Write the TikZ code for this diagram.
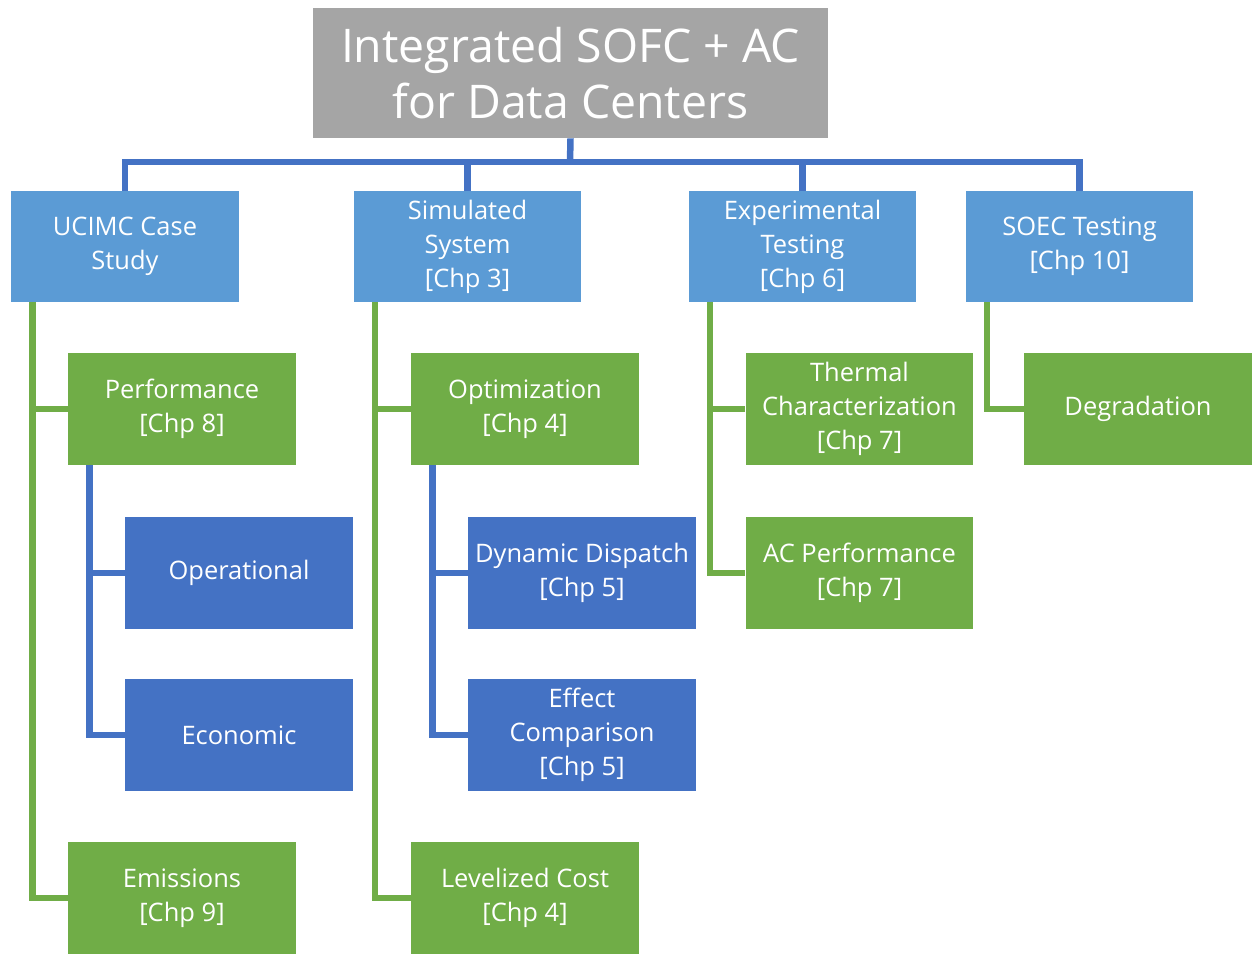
\documentclass[tikz,border=0pt]{standalone}
\usepackage{fontspec}
\setmainfont{Open Sans}
\definecolor{ttlgray}{HTML}{A5A5A5}
\definecolor{lblue}{HTML}{5B9BD5}
\definecolor{dblue}{HTML}{4472C4}
\definecolor{lgreen}{HTML}{70AD47}

\begin{document}
\begin{tikzpicture}[x=0.02cm,y=-0.02cm,
	box/.style={minimum width=4.56cm,minimum height=2.24cm,inner sep=0pt,align=center,
		text=white,font=\fontsize{14.5}{19.3}\selectfont},
	toplvl/.style={box,fill=lblue,minimum height=2.22cm},
	grnbox/.style={box,fill=lgreen},
	blubox/.style={box,fill=dblue},
	grnline/.style={draw=lgreen,line width=3.7pt},
	bluline/.style={draw=dblue,line width=3.7pt}]
	\useasboundingbox (0,0) rectangle (1253,953);
	\node[fill=ttlgray,text=white,minimum width=10.3cm,minimum height=2.6cm,inner sep=0pt,align=center,
		font=\fontsize{26.4}{32.3}\selectfont] (title) at (570.5,73) {Integrated SOFC + AC\\for Data Centers};
	\node[toplvl] (ucimc) at (125,246.5) {UCIMC Case\\Study};
	\node[toplvl] (sim) at (467.5,246.5) {Simulated\\System\\{[Chp 3]}};
	\node[toplvl] (exp) at (802.5,246.5) {Experimental\\Testing\\{[Chp 6]}};
	\node[toplvl] (soec) at (1079.5,246.5) {SOEC Testing\\{[Chp 10]}};
	\node[grnbox] (perf) at (182,409) {Performance\\{[Chp 8]}};
	\node[grnbox] (emis) at (182,898) {Emissions\\{[Chp 9]}};
	\node[blubox] (oper) at (239,573) {Operational};
	\node[blubox] (econ) at (239,735) {Economic};
	\node[grnbox] (optim) at (525,409) {Optimization\\{[Chp 4]}};
	\node[grnbox] (lcost) at (525,898) {Levelized Cost\\{[Chp 4]}};
	\node[blubox] (dyn) at (582,573) {Dynamic Dispatch\\{[Chp 5]}};
	\node[blubox] (effect) at (582,735) {Effect\\Comparison\\{[Chp 5]}};
	\node[grnbox] (therm) at (859.5,409) {Thermal\\Characterization\\{[Chp 7]}};
	\node[grnbox] (acperf) at (859.5,573) {AC Performance\\{[Chp 7]}};
	\node[grnbox] (degr) at (1138,409) {Degradation};
	% top bus
	\coordinate (bus) at (570,162);
	\draw[bluline] (title.south) -- (bus);
	\draw[bluline] (ucimc.north) |- (bus) -| (soec.north);
	\draw[bluline] (sim.north) -- (sim.north |- bus);
	\draw[bluline] (exp.north) -- (exp.north |- bus);
	% branches
	\draw[grnline] ([xshift=0.44cm]ucimc.south west) |- (emis.west);
	\draw[grnline] ([xshift=0.44cm]ucimc.south west) |- (perf.west);
	\draw[bluline] ([xshift=0.44cm]perf.south west) |- (econ.west);
	\draw[bluline] ([xshift=0.44cm]perf.south west) |- (oper.west);
	\draw[grnline] ([xshift=0.44cm]sim.south west) |- (lcost.west);
	\draw[grnline] ([xshift=0.44cm]sim.south west) |- (optim.west);
	\draw[bluline] ([xshift=0.44cm]optim.south west) |- (effect.west);
	\draw[bluline] ([xshift=0.44cm]optim.south west) |- (dyn.west);
	\draw[grnline] ([xshift=0.44cm]exp.south west) |- (acperf.west);
	\draw[grnline] ([xshift=0.44cm]exp.south west) |- (therm.west);
	\draw[grnline] ([xshift=0.44cm]soec.south west) |- (degr.west);
\end{tikzpicture}
\end{document}
